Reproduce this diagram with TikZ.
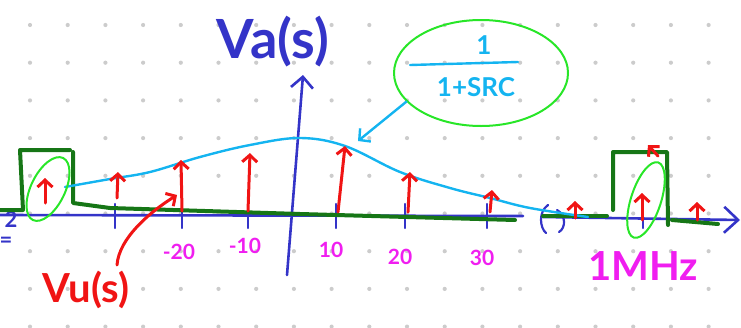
\documentclass[tikz,border=0pt]{standalone}
\usepackage{fontspec}
\setmainfont{Lato}
\usetikzlibrary{arrows.meta,shapes.geometric,calc}
\definecolor{axisblue}{RGB}{52,52,200}
\definecolor{bandgreen}{RGB}{22,118,22}
\definecolor{spikered}{RGB}{240,20,20}
\definecolor{envblue}{RGB}{20,180,240}
\definecolor{ringgreen}{RGB}{40,230,40}
\definecolor{freqpink}{RGB}{240,30,240}
\tikzset{
  skdot/.style={fill=gray!40,draw=none},
  skaxis/.style={draw=axisblue,line width=2.6pt,line cap=round},
  sktick/.style={draw=axisblue,line width=2.2pt,line cap=round},
  skband/.style={draw=bandgreen,line width=4pt,line cap=round,line join=round},
  skspike/.style={draw=spikered,line width=3pt,line cap=round,
    -{Straight Barb[length=7pt,width=15pt]}},
  skenv/.style={draw=envblue,line width=2.4pt,line cap=round},
  skring/.style={ellipse,draw=ringgreen,line width=2pt,inner sep=0pt},
  sklabel/.style={inner sep=0pt},
  sktickl/.style={sklabel,text=freqpink,font=\bfseries\fontsize{21}{21}\selectfont}
}
\begin{document}
\begin{tikzpicture}[x=1pt,y=-1pt]
\useasboundingbox (0,0) rectangle (741,327);
% dot grid of the paper
\foreach \i in {0,...,19}
  \foreach \j in {0,...,8}
    \fill[skdot] ({30+37.7*\i},{25+37.7*\j}) circle (2.1pt);

% axes
\coordinate (xl) at (0,215);
\coordinate (xbreak) at (523,216);
\coordinate (xresume) at (543,217);
\coordinate (xr) at (740,220);
\coordinate (yb) at (287,275);
\coordinate (yt) at (303,75);
\draw[skaxis] (xl) -- (xbreak);
\draw[skaxis,-{Straight Barb[length=14pt,width=26pt]}] (xresume) -- (xr);
\draw[skaxis,-{Straight Barb[length=11pt,width=22pt]}] (yb) -- (yt);
\draw[sktick] (548,205) .. controls (538,212) and (540,228) .. (546,233);
\draw[sktick] (557,210) .. controls (566,215) and (566,228) .. (559,232);
\foreach \tx in {115,182,248,336,405,487,643}
  \draw[sktick] (\tx,204) -- (\tx,228);
\node[sklabel,text=axisblue,font=\bfseries\fontsize{22}{22}\selectfont] (cut2) at (11,219) {2};
\node[sklabel,text=axisblue,font=\bfseries\fontsize{22}{22}\selectfont] (cuteq) at (6,242) {=};
\node[sklabel,text=axisblue,font=\bfseries\fontsize{54}{54}\selectfont] (va) at (273,42) {Va(s)};

% tick labels
\node[sktickl] (fm20) at (179,252) {-20};
\node[sktickl] (fm10) at (245,246) {-10};
\node[sktickl] (fp10) at (331,250) {10};
\node[sktickl] (fp20) at (400,257) {20};
\node[sktickl] (fp30) at (482,258) {30};
\node[sklabel,text=freqpink,font=\bfseries\fontsize{40}{40}\selectfont] (mhz) at (643,266) {1MHz};

% spectrum of the sampled signal
\draw[skband] (0,210) -- (23,210) -- (20,150) -- (70,150);
\draw[skband] (73,152) -- (73,203) -- (110,208) -- (300,214) -- (515,220);
\draw[skband] (543,216) -- (607,216);
\draw[skband] (613,210) -- (613,152) -- (667,152) -- (668,225);
\draw[skband] (672,220) -- (718,224);

% envelope 1/(1+sRC)
\draw[skenv] plot[smooth,tension=0.6] coordinates {(65,187) (110,179) (150,172)
  (200,157) (250,145) (300,138) (345,146) (400,172) (450,188) (490,198)
  (530,208) (588,217)};
\coordinate (envtop) at (358,141);
\node[skring,minimum width=174pt,minimum height=106pt] (gain) at (481,73) {};
\node[sklabel,text=envblue,font=\bfseries\fontsize{26}{26}\selectfont] (num) at (484,45) {1};
\coordinate (fl) at (410,65);
\coordinate (fr) at (518,62);
\draw[skenv] (fl) -- (fr);
\node[sklabel,text=envblue,font=\bfseries\fontsize{26}{26}\selectfont] (den) at (476,87) {1+SRC};
\draw[skenv,-{Straight Barb[length=8pt,width=17pt]}] (gain.201) -- (envtop);

% spectral lines
\foreach \k/\bx/\by/\tx/\ty in {1/45/203/45/178, 2/117/198/118/172, 3/182/211/181/160,
    4/248/211/250/153, 5/338/212/345/146, 6/408/212/410/172, 7/490/212/492/190,
    8/575/218/575/201, 9/642/220/642/193, 10/697/220/697/202, 11/658/156/648/145}{
  \coordinate (sb\k) at (\bx,\by);
  \coordinate (st\k) at (\tx,\ty);
  \draw[skspike] (sb\k) -- (st\k);
}

% rings round the aliased parts
\node[skring,minimum width=69pt,minimum height=34pt,rotate=64] (lring) at (48,189) {};
\node[skring,minimum width=79pt,minimum height=30pt,rotate=72] (rring) at (646,200) {};

% input spectrum label
\node[sklabel,text=spikered,font=\bfseries\fontsize{40}{40}\selectfont] (vu) at (86,290) {Vu(s)};
\coordinate (vutail) at (117,265);
\coordinate (vutip) at (177,195);
\draw[skspike] (vutail) .. controls (119,238) and (150,212) .. (vutip);
\end{tikzpicture}
\end{document}
